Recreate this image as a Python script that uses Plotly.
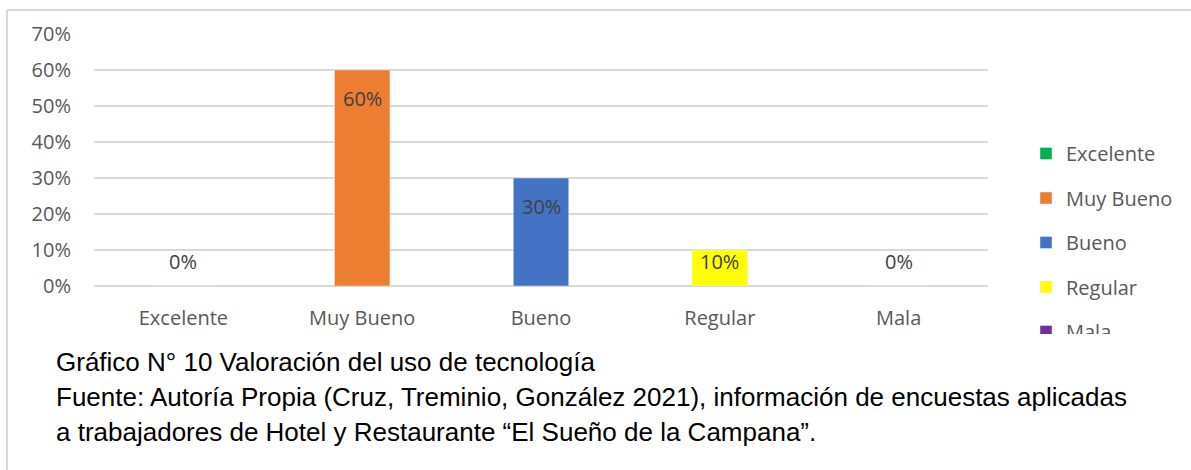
import plotly.graph_objects as go

# datos del gráfico
categorias = ["Excelente", "Muy Bueno", "Bueno", "Regular", "Mala"]
valores = [0.0, 0.60, 0.30, 0.10, 0.0]
colores = ["#00B050", "#ED7D31", "#4472C4", "#FFFF00", "#7030A0"]
ticks_y = [0, 0.1, 0.2, 0.3, 0.4, 0.5, 0.6, 0.7]

titulo = "Gráfico N° 10 Valoración del uso de tecnología"
fuente = ["Fuente: Autoría Propia (Cruz, Treminio, González 2021), información de encuestas aplicadas",
          "a trabajadores de Hotel y Restaurante “El Sueño de la Campana”."]

W, H = 1191, 470
L, R, T, B = 94, 203, 34, 184

def px_x(p):
    return (p - L) / (W - L - R)

def px_y(p):
    return (H - B - p) / (H - T - B)

fig = go.Figure()

for cat, val, col in zip(categorias, valores, colores):
    fig.add_trace(go.Bar(
        x=[cat], y=[val], name=cat, marker_color=col,
        width=0.31, legendgroup=cat, hoverinfo="skip"
    ))

# etiquetas de datos (dentro del extremo, sin bajar de la base)
for cat, val in zip(categorias, valores):
    fig.add_annotation(
        x=cat, y=max(val - 0.078, 0.0667), text=f"{val:.0%}",
        showarrow=False, font=dict(family="Open Sans", size=20, color="#404040"),
        yanchor="middle"
    )

# pie de gráfico
fig.add_annotation(x=px_x(54), y=px_y(362), xref="paper", yref="paper",
                   text=titulo, showarrow=False, xanchor="left", yanchor="middle",
                   font=dict(family="Liberation Sans", size=26, color="black"))
for i, linea in enumerate(fuente):
    fig.add_annotation(x=px_x(54), y=px_y(397 + 34.5 * i), xref="paper", yref="paper",
                       text=linea, showarrow=False, xanchor="left", yanchor="middle",
                       font=dict(family="Liberation Sans", size=26, color="black"))

# borde gris del área
borde = dict(color="#d9d9d9", width=2)
fig.add_shape(type="line", xref="paper", yref="paper",
              x0=px_x(7), x1=px_x(W), y0=px_y(10), y1=px_y(10), line=borde)
fig.add_shape(type="line", xref="paper", yref="paper",
              x0=px_x(7), x1=px_x(7), y0=px_y(10), y1=px_y(H), line=borde)

fig.update_layout(
    width=W, height=H,
    margin=dict(l=L, r=R, t=T, b=B),
    plot_bgcolor="white", paper_bgcolor="white",
    barmode="overlay",
    font=dict(family="Open Sans", size=20, color="#595959"),
    showlegend=True,
    legend=dict(
        xref="container", yref="container", x=1026 / W, y=1 - 134 / H,
        xanchor="left", yanchor="top",
        font=dict(family="Open Sans", size=20, color="#595959"),
        tracegroupgap=15.5, itemwidth=30, maxheight=200,
        bgcolor="rgba(0,0,0,0)"
    ),
    xaxis=dict(showgrid=False, showline=False, ticks="", ticklabelstandoff=18,
               tickfont=dict(size=20, color="#595959")),
    yaxis=dict(range=[0, 0.7], tickvals=ticks_y, tickformat=".0%",
               showgrid=True, gridcolor="#d9d9d9", gridwidth=1.5,
               zeroline=True, zerolinecolor="#d9d9d9", zerolinewidth=1.5,
               ticks="", ticklabelstandoff=22,
               tickfont=dict(size=20, color="#595959")),
)

fig.write_html("out.html", config={"displayModeBar": False},
               post_script="document.body.style.margin='0';"
                           "document.querySelectorAll('.scrollbar').forEach(function(e){e.style.display='none';});")
